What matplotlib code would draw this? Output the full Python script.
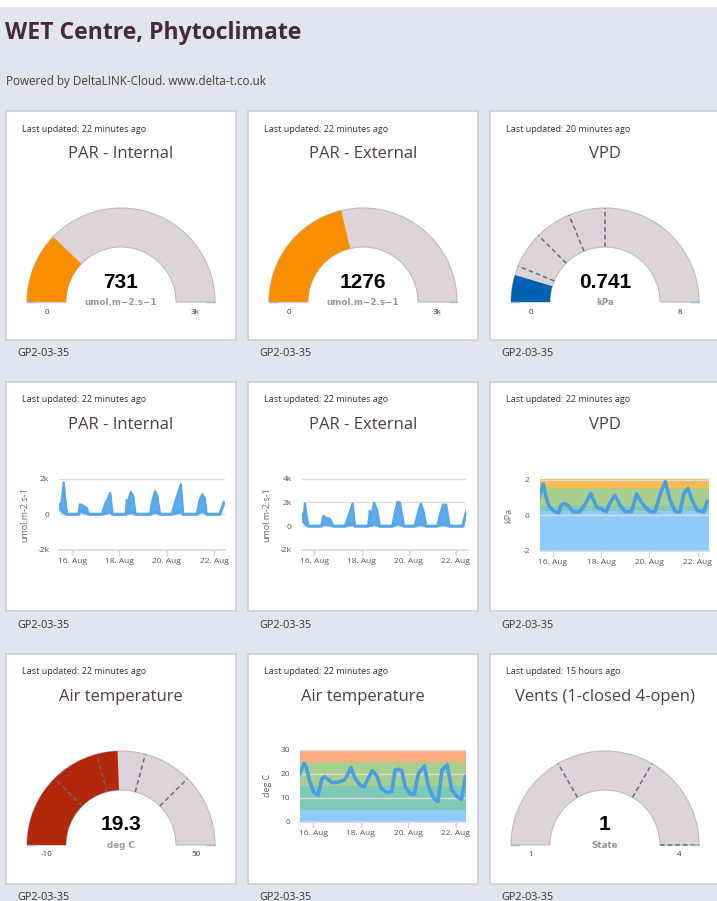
import matplotlib
matplotlib.use("Agg")
import matplotlib.pyplot as plt
from matplotlib.patches import Rectangle, Wedge
import numpy as np

plt.rcParams['font.family'] = ['Open Sans', 'DejaVu Sans']

W, H = 717, 901

# ---------------- data ----------------
page_title = "WET Centre, Phytoclimate"
page_subtitle = "Powered by DeltaLINK-Cloud. www.delta-t.co.uk"
station = "GP2-03-35"

# gauges (row 1 + air temperature + vents)
gauge_titles = ["PAR - Internal", "PAR - External", "VPD", "Air temperature", "Vents (1-closed 4-open)"]
gauge_updated = ["22 minutes ago", "22 minutes ago", "20 minutes ago", "22 minutes ago", "15 hours ago"]
gauge_values = [731, 1276, 0.741, 19.3, 1]
gauge_value_labels = ["731", "1276", "0.741", "19.3", "1"]
gauge_units = ["umol.m\u22122.s\u22121", "umol.m\u22122.s\u22121", "kPa", "deg C", "State"]
gauge_min = [0, 0, 0, -10, 1]
gauge_max = [3000, 3000, 8, 50, 4]
gauge_min_labels = ["0", "0", "0", "-10", "1"]
gauge_max_labels = ["3k", "3k", "8", "50", "4"]
gauge_bands = [[], [], [1, 2, 3, 4], [5, 15, 25, 35], [2, 3, 4]]
gauge_colors = ["#f98e00", "#f98e00", "#0062b0", "#b3270b", "#0062b0"]
gauge_cells = [(0, 0), (0, 1), (0, 2), (2, 0), (2, 2)]

# time axis: days since 15 Aug 00:00
date_ticks = [1, 3, 5, 7]
date_labels = ["16. Aug", "18. Aug", "20. Aug", "22. Aug"]

# PAR internal (min / max range)
t_int = [0.47, 0.52, 0.58, 0.65, 0.70, 0.79, 1.28, 1.33, 1.39, 1.50, 1.62, 1.72,
         2.26, 2.40, 2.52, 2.61, 2.71, 3.27, 3.31, 3.35, 3.40, 3.48, 3.58, 3.68,
         4.29, 4.38, 4.50, 4.60, 4.71, 5.20, 5.35, 5.50, 5.59, 5.69,
         6.26, 6.38, 6.50, 6.60, 6.68, 7.23, 7.40]
hi_int = [550, 450, 900, 1780, 1000, 0, 0, 550, 530, 450, 350, 0,
          0, 600, 900, 1190, 0, 0, 800, 300, 900, 1250, 1000, 0,
          0, 700, 1300, 1000, 0, 0, 700, 1300, 1680, 0,
          0, 800, 1110, 900, 0, 0, 680]
lo_int = [300, 250, 150, 100, 50, 0, 0, 150, 150, 100, 50, 0,
          0, 50, 100, 150, 0, 0, 100, 50, 50, 100, 50, 0,
          0, 50, 100, 100, 0, 0, 50, 100, 150, 0,
          0, 100, 150, 100, 0, 0, 600]

# PAR external (min / max range)
t_ext = [0.46, 0.53, 0.60, 0.66, 0.75, 1.28, 1.38, 1.50, 1.66, 1.80,
         2.30, 2.45, 2.62, 2.72, 3.28, 3.35, 3.40, 3.45, 3.53, 3.65, 3.77,
         4.30, 4.42, 4.52, 4.62, 4.80, 5.25, 5.40, 5.51, 5.62, 5.75,
         6.21, 6.33, 6.45, 6.59, 6.73, 7.29, 7.44]
hi_ext = [1050, 600, 1900, 900, 0, 0, 860, 700, 600, 0,
          0, 900, 1900, 0, 0, 1300, 500, 1200, 1970, 1400, 0,
          0, 1200, 2030, 2000, 0, 0, 1200, 1900, 1300, 0,
          0, 1000, 1800, 1800, 0, 0, 1250]
lo_ext = [500, 400, 200, 100, 0, 0, 150, 150, 100, 0,
          0, 100, 150, 0, 0, 100, 50, 100, 200, 100, 0,
          0, 100, 200, 150, 0, 0, 100, 150, 100, 0,
          0, 100, 150, 100, 0, 0, 1100]

# VPD line
t_vpd = [0.40, 0.51, 0.61, 0.72, 0.86, 1.07, 1.24, 1.35, 1.49, 1.65,
         1.83, 2.11, 2.32, 2.57, 2.81, 3.01, 3.22, 3.36, 3.57, 3.78,
         3.99, 4.27, 4.47, 4.65, 4.82, 5.03, 5.24, 5.45, 5.66, 5.86,
         6.07, 6.28, 6.42, 6.60, 6.77, 6.98, 7.25, 7.39]
vpd = [0.84, 1.3, 1.74, 1.0, 0.47, 0.19, 0.13, 0.56, 0.65, 0.51,
       0.19, 0.19, 0.56, 1.2, 0.47, 0.32, 0.19, 0.65, 1.12, 0.56,
       0.19, 0.19, 1.2, 0.75, 0.47, 0.19, 0.19, 1.2, 1.87, 0.84,
       0.19, 0.19, 1.2, 1.5, 0.84, 0.25, 0.19, 0.75]
vpd_bands = [(-2, 0.2, "#8ecbf9"), (0.2, 0.5, "#86c8b4"), (0.5, 1.5, "#a9cf8f"), (1.5, 2, "#fcbb4c")]

# Air temperature line
t_temp = [0.44, 0.62, 0.72, 0.86, 1.04, 1.21, 1.38, 1.49, 1.63, 1.80,
          2.05, 2.31, 2.45, 2.59, 2.76, 2.97, 3.15, 3.32, 3.49, 3.68,
          3.86, 4.10, 4.31, 4.45, 4.59, 4.73, 4.87, 5.08, 5.26, 5.43,
          5.68, 5.85, 6.07, 6.25, 6.42, 6.63, 6.84, 7.05, 7.24, 7.41]
temp = [19.9, 24.4, 22.7, 16.7, 12.1, 11.2, 18.1, 18.8, 17.7, 16.3,
        16.5, 17.4, 19.5, 22.7, 18.1, 15.3, 14.6, 18.1, 21.3, 19.1,
        13.9, 12.1, 12.6, 21.6, 21.9, 21.3, 14.6, 11.6, 11.4, 20.2,
        23.3, 14.6, 9.8, 8.4, 21.6, 23.7, 13.2, 10.5, 9.3, 18.8]
temp_bands = [(0, 5, "#8ecbf9"), (5, 15, "#80c9b5"), (15, 25, "#a9cf8f"), (25, 30, "#fdab80")]

# ---------------- layout ----------------
col_x = [6, 248, 490]
row_y = [111, 382, 654]
card_w, card_h = 230, 229

title_col = "#4e3e46"
text_col = "#333333"

fig = plt.figure(figsize=(W / 100, H / 100), dpi=100)
fig.patch.set_facecolor("#e1e5ef")

bg = fig.add_axes([0, 0, 1, 1])
bg.set_xlim(0, W)
bg.set_ylim(H, 0)
bg.axis("off")

bg.add_patch(Rectangle((0, 0), W, 7, facecolor="white", edgecolor="none"))
bg.text(5, 33, page_title, fontsize=16.6, fontweight="bold", color="#47293a", va="center", ha="left")
bg.text(6, 81, page_subtitle, fontsize=8.4, color="#4a3a42", va="center", ha="left")


def draw_card(row, col, title, updated):
    x, y = col_x[col], row_y[row]
    bg.add_patch(Rectangle((x, y), card_w, card_h + (1 if row == 2 else 0), facecolor="white",
                           edgecolor="#cfccd3", lw=1.2))
    bg.text(x + 16, y + 18, "Last updated: " + updated, fontsize=6.5, color=text_col, va="center")
    bg.text(x + 115, y + 43, title, fontsize=12, color=title_col, va="center", ha="center")
    bg.text(x + 11, y + card_h + 14, station, fontsize=7.8, color=text_col, va="center")


def draw_gauge(row, col, i):
    cx = col_x[col] + 115
    cy = row_y[row] + 191
    R, r = 94, 55
    vmin, vmax = gauge_min[i], gauge_max[i]
    bg.add_patch(Wedge((cx, cy), R, -180, 0, width=R - r, facecolor="#ddd4d9",
                       edgecolor="#c2b8bd", lw=0.8))
    ang = 180 - (gauge_values[i] - vmin) / (vmax - vmin) * 180
    if ang < 180:
        bg.add_patch(Wedge((cx, cy), R, -180, -ang, width=R - r, facecolor=gauge_colors[i],
                           edgecolor="none"))
    for v in gauge_bands[i]:
        a = np.radians(180 - (v - vmin) / (vmax - vmin) * 180)
        bg.plot([cx + r * np.cos(a), cx + R * np.cos(a)], [cy - r * np.sin(a), cy - R * np.sin(a)],
                color="#6f6a72", lw=1.1, ls=(0, (3, 2)))
    # small blue marks at both ends of the base
    bg.plot([cx - R, cx - R + 8], [cy, cy], color="#9db9e6", lw=1)
    bg.plot([cx + R - 8, cx + R], [cy, cy], color="#9db9e6", lw=1)
    bg.text(cx, cy - 20, gauge_value_labels[i], fontsize=15, fontweight="bold", color="black",
            ha="center", va="center", family="Liberation Sans")
    bg.text(cx, cy + 0.5, gauge_units[i], fontsize=6.3, fontweight="bold", color="#9e949a",
            ha="center", va="center", family="DejaVu Sans")
    bg.text(cx - (R + r) / 2, cy + 10, gauge_min_labels[i], fontsize=5.8, color=text_col,
            ha="center", va="center")
    bg.text(cx + (R + r) / 2, cy + 10, gauge_max_labels[i], fontsize=5.8, color=text_col,
            ha="center", va="center")


def chart_axes(left, right, top, bottom):
    ax = fig.add_axes([left / W, 1 - bottom / H, (right - left) / W, (bottom - top) / H])
    ax.set_facecolor("none")
    for s in ["top", "right", "left"]:
        ax.spines[s].set_visible(False)
    ax.spines["bottom"].set_color("#ccd6eb")
    ax.spines["bottom"].set_linewidth(1.2)
    ax.set_xlim(0.45, 7.45)
    ax.set_xticks(date_ticks)
    ax.set_xticklabels(date_labels)
    ax.tick_params(axis="x", length=4, width=1, color="#ccd6eb", pad=2, labelsize=6, labelcolor="#555555")
    ax.tick_params(axis="y", length=0, pad=7, labelsize=6, labelcolor="#555555")
    ax.yaxis.grid(True, color="#dcdcdc", lw=1)
    return ax


def ylabel(row, col, text, top, bottom):
    bg.text(col_x[col] + 19, (top + bottom) / 2, text, rotation=90, fontsize=6.5, color="#666666",
            ha="center", va="center")


# cards
for i, (row, col) in enumerate(gauge_cells):
    draw_card(row, col, gauge_titles[i], gauge_updated[i])
    draw_gauge(row, col, i)

draw_card(1, 0, "PAR - Internal", "22 minutes ago")
draw_card(1, 1, "PAR - External", "22 minutes ago")
draw_card(1, 2, "VPD", "22 minutes ago")
draw_card(2, 1, "Air temperature", "22 minutes ago")

# PAR internal chart
ax = chart_axes(59, 225, 478.5, 550)
ax.fill_between(t_int, lo_int, hi_int, color="#5cabef", lw=0)
ax.plot(t_int, hi_int, color="#58a6ea", lw=1.6)
ax.plot(t_int, lo_int, color="#58a6ea", lw=2.2)
ax.set_ylim(-2000, 2000)
ax.set_yticks([-2000, 0, 2000])
ax.set_yticklabels(["-2k", "0", "2k"])
ylabel(1, 0, "umol.m-2.s-1", 478.5, 550)

# PAR external chart
ax = chart_axes(301.5, 466.5, 478.5, 550)
ax.fill_between(t_ext, lo_ext, hi_ext, color="#5cabef", lw=0)
ax.plot(t_ext, hi_ext, color="#58a6ea", lw=1.6)
ax.plot(t_ext, lo_ext, color="#58a6ea", lw=2.2)
ax.set_ylim(-2000, 4000)
ax.set_yticks([-2000, 0, 2000, 4000])
ax.set_yticklabels(["-2k", "0", "2k", "4k"])
ylabel(1, 1, "umol.m-2.s-1", 478.5, 550)

# VPD chart
ax = chart_axes(539.5, 708.5, 479.5, 550.5)
for lo, hi, c in vpd_bands:
    ax.axhspan(lo, hi, color=c, lw=0, zorder=0)
ax.plot(t_vpd, vpd, color="#4a9ee3", lw=2.6, zorder=3)
ax.set_ylim(-2, 2)
ax.set_yticks([-2, 0, 2])
ax.set_yticklabels(["-2", "0", "2"])
ylabel(1, 2, "kPa", 479.5, 550.5)

# Air temperature chart
ax = chart_axes(300, 466.5, 750, 821.5)
for lo, hi, c in temp_bands:
    ax.axhspan(lo, hi, color=c, lw=0, zorder=0)
ax.plot(t_temp, temp, color="#4a9ee3", lw=2.6, zorder=3)
ax.set_ylim(0, 30)
ax.set_yticks([0, 10, 20, 30])
ax.set_yticklabels(["0", "10", "20", "30"])
ylabel(2, 1, "deg C", 750, 821.5)

fig.savefig("out.png", dpi=100, facecolor=fig.get_facecolor())
